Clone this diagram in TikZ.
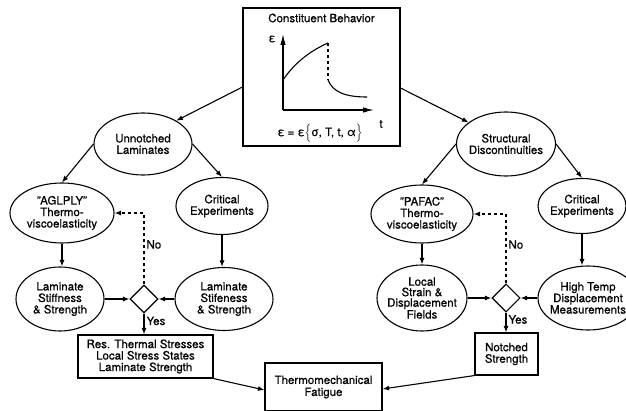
\documentclass[tikz,border=0pt]{standalone}
\usepackage{fontspec}
\setmainfont{TeX Gyre Heros}[FakeBold=0.6,AutoFakeBold=0.6]
\usetikzlibrary{arrows.meta,shapes.geometric}
\begin{document}
\begin{tikzpicture}[x=1pt,y=1pt,
  every node/.style={font=\fontsize{11.5}{11.5}\selectfont\bfseries},
  ln/.style={line width=1.1pt},
  arr/.style={ln,-{Latex[length=6.5pt,width=5pt]}},
  axarr/.style={ln,-{Latex[length=11pt,width=5.5pt]}},
  ell/.style n args={2}{draw,ellipse,line width=1.1pt,inner sep=0pt,minimum width=#1,minimum height=#2},
  lbl/.style={align=center,inner sep=0pt},
  box/.style={draw,line width=1.1pt,inner sep=0pt},
  dia/.style={draw,diamond,line width=1.1pt,inner sep=0pt,minimum width=28pt,minimum height=28pt},
  tag/.style={inner sep=2pt,font=\fontsize{11.5}{12}\selectfont\bfseries}
]
\useasboundingbox (0,0) rectangle (626,410);
\clip (0,0) rectangle (626,410);
\fill[white] (0,0) rectangle (626,410);

% top box with constitutive plot
\node[box,minimum width=157pt,minimum height=138pt] (top) at (321.5,333) {};
\node[lbl] (topT) at (321.5,392) {Constituent Behavior};
\draw[axarr] (283,300) -- (283,376);
\draw[axarr] (283,300) -- (374,300);
\draw[ln] (283,330) .. controls (295,348) and (312,360) .. (328,367);
\draw[ln,dashed] (328,367) -- (328,330);
\draw[ln] (328,330) .. controls (333,318) and (345,313) .. (367,313);
\node[lbl] (epsT) at (272,371) {ε};
\node[lbl] (tT) at (381,286) {t};
\node[lbl] (fm) at (320,277) {ε = ε$\Big\{$σ, T, t, α$\Big\}$};

% second row
\node[ell={98pt}{62pt}] (un) at (143,266) {};
\node[lbl] (unT) at (un) {Unnotched\\Laminates};
\node[ell={99pt}{64pt}] (sd) at (506,266) {};
\node[lbl] (sdT) at (sd) {Structural\\Discontinuities};

% third row
\node[ell={104pt}{60pt}] (ag) at (62,197) {};
\node[lbl] (agT) at (ag) {"AGLPLY"\\Thermo-\\viscoelasticity};
\node[ell={92pt}{57pt}] (cl) at (222,204) {};
\node[lbl] (clT) at (cl) {Critical\\Experiments};
\node[ell={102pt}{58pt}] (pf) at (422,196) {};
\node[lbl] (pfT) at (pf) {"PAFAC"\\Thermo-\\viscoelasticity};
\node[ell={88pt}{55pt}] (cr) at (582,204) {};
\node[lbl] (crT) at (cr) {Critical\\Experiments};

% fourth row
\node[ell={88pt}{64pt}] (ll) at (60,111) {};
\node[lbl] (llT) at (ll) {Laminate\\Stiffness\\\& Strength};
\node[dia] (dl) at (144,111) {};
\node[ell={98pt}{63pt}] (lr) at (224,111) {};
\node[lbl] (lrT) at (lr) {Laminate\\Stifeness\\\& Strength};
\node[ell={90pt}{66pt}] (ls) at (422,112) {};
\node[lbl,font=\fontsize{11.5}{10.5}\selectfont\bfseries] (lsT) at (ls) {Local\\Strain \&\\Displacement\\Fields};
\node[dia] (dr) at (506,112) {};
\node[ell={100pt}{64pt}] (ht) at (588,112) {};
\node[lbl] (htT) at (ht) {High Temp\\Displacement\\Measurements};

% result boxes
\node[box,minimum width=135pt,minimum height=43pt] (res) at (145.5,53.5) {};
\node[lbl] (resT) at (res) {Res. Thermal Stresses\\Local Stress States\\Laminate Strength};
\node[box,minimum width=63pt,minimum height=42pt] (nb) at (506.5,56) {};
\node[lbl] (nbT) at (nb) {Notched\\Strength};
\node[box,minimum width=117pt,minimum height=48pt] (tf) at (323.5,23) {};
\node[lbl,font=\fontsize{11.5}{12}\selectfont\bfseries] (tfT) at (tf) {Thermomechanical\\Fatigue};

% connectors
\draw[arr] ([yshift=-10pt]top.west) -- (un.35);
\draw[arr] ([yshift=-11pt]top.east) -- (sd.150);
\draw[arr] (un.west) -- (ag.north);
\draw[arr] (un.east) -- (cl.north);
\draw[arr] (sd.west) -- (pf.north);
\draw[arr] (sd.east) -- (cr.north);
\draw[arr] (ag.south) -- (ag.south |- ll.north);
\draw[arr] (cl.south) -- (cl.south |- lr.north);
\draw[arr] (pf.south) -- (pf.south |- ls.north);
\draw[arr] (cr.south) -- (cr.south |- ht.north);
\draw[arr] (ll.east) -- (dl.west);
\draw[arr] (lr.west) -- (dl.east);
\draw[arr] (ls.east) -- (dr.west);
\draw[arr] (ht.west) -- (dr.east);
\draw[arr] (dl.south) -- (dl.south |- res.north) node[tag,pos=0.35,right] (yesL) {Yes};
\draw[arr] (dr.south) -- (dr.south |- nb.north) node[tag,pos=0.35,right] (yesR) {Yes};
\draw[arr,dashed] (dl.north) |- (ag.east) node[tag,pos=0.28,right] (noL) {No};
\draw[arr,dashed] (dr.north) |- (pf.east) node[tag,pos=0.28,right] (noR) {No};
\draw[arr] (res.south east) -- ([yshift=-3pt]tf.west);
\draw[arr] (nb.south west) -- ([yshift=-2pt]tf.east);
\end{tikzpicture}
\end{document}
